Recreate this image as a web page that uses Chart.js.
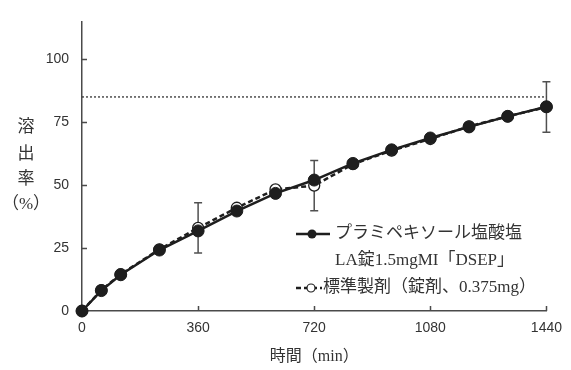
<!DOCTYPE html>
<html>
<head>
<meta charset="utf-8">
<script src="https://cdn.jsdelivr.net/npm/chart.js@4/dist/chart.umd.min.js"></script>
<style>
  html, body { margin: 0; padding: 0; background: #fff; }
  #wrap { width: 571px; height: 370px; }
</style>
</head>
<body>
<div id="wrap"><canvas id="c" width="571" height="370"></canvas></div>
<script>
// Sampling times (min) and mean dissolution (%)
const times = [0, 60, 120, 240, 360, 480, 600, 720, 840, 960, 1080, 1200, 1320, 1440];
const testProduct = [0, 8.1, 14.4, 24.2, 31.8, 39.7, 46.7, 52.0, 58.6, 64.0, 68.7, 73.1, 77.3, 81.1];
const referenceProduct = [0, 8.3, 14.6, 24.5, 33.0, 41.0, 48.3, 49.8, 58.3, 63.7, 68.3, 73.3, 77.3, 81.0];

// Acceptance ranges around the reference product
const rangeTimes = [360, 720, 1440];
const rangeLow = [23.0, 39.8, 71.0];
const rangeHigh = [43.0, 59.8, 91.0];

// Horizontal limit line
const limitTimes = [0, 1440];
const limitValues = [85, 85];

// Axis ticks and labels
const xTickValues = [0, 360, 720, 1080, 1440];
const yTickValues = [0, 25, 50, 75, 100];
const xTitle = '時間（min）';
const yTitleChars = ['溶', '出', '率', '（%）'];
const legendTest = ['プラミペキソール塩酸塩', 'LA錠1.5mgMI「DSEP」'];
const legendRef = '標準製剤（錠剤、0.375mg）';

const INK = '#1e1e1e';
const AXIS = '#4a4a4a';
const SERIF = '"Liberation Serif", "Noto Sans CJK JP", serif';
const SANS = '"Liberation Sans", Arial, sans-serif';

const toXY = (xs, ys) => xs.map((x, i) => ({ x: x, y: ys[i] }));

// Error bars behind the markers
const rangeBars = {
  id: 'rangeBars',
  beforeDatasetsDraw(chart) {
    const { ctx, scales: { x, y } } = chart;
    ctx.save();
    ctx.strokeStyle = '#505050';
    ctx.lineWidth = 1.5;
    rangeTimes.forEach((t, i) => {
      const px = x.getPixelForValue(t);
      const top = y.getPixelForValue(rangeHigh[i]);
      const bot = y.getPixelForValue(rangeLow[i]);
      ctx.beginPath();
      ctx.moveTo(px, top); ctx.lineTo(px, bot);
      ctx.moveTo(px - 4, top); ctx.lineTo(px + 4, top);
      ctx.moveTo(px - 4, bot); ctx.lineTo(px + 4, bot);
      ctx.stroke();
    });
    ctx.restore();
  }
};

// Inner tick marks, axis titles and legend
const decor = {
  id: 'decor',
  afterDraw(chart) {
    const { ctx, chartArea: a, scales: { x, y } } = chart;
    ctx.save();
    ctx.strokeStyle = AXIS;
    ctx.lineWidth = 1.5;
    ctx.beginPath();
    yTickValues.forEach(v => {
      if (v === 0) return;
      const py = Math.round(y.getPixelForValue(v)) + 0.5;
      ctx.moveTo(a.left, py); ctx.lineTo(a.left + 5, py);
    });
    xTickValues.forEach(v => {
      if (v === 0) return;
      const px = Math.round(x.getPixelForValue(v)) + 0.5;
      ctx.moveTo(px, a.bottom); ctx.lineTo(px, a.bottom - 5);
    });
    ctx.stroke();

    // Y title, stacked vertically
    ctx.fillStyle = '#333';
    ctx.textAlign = 'center';
    ctx.textBaseline = 'middle';
    const yPos = [128, 155, 180, 205];
    yTitleChars.forEach((ch, i) => {
      ctx.font = '17px ' + SERIF;
      ctx.fillText(ch, 26, yPos[i]);
    });

    // X title
    ctx.font = '16px ' + SERIF;
    ctx.fillText(xTitle, (a.left + a.right) / 2, 357);

    // Legend
    ctx.textAlign = 'left';
    ctx.font = '17px ' + SERIF;
    // test product entry
    ctx.strokeStyle = INK;
    ctx.lineWidth = 2.5;
    ctx.setLineDash([]);
    ctx.beginPath(); ctx.moveTo(296, 234); ctx.lineTo(330, 234); ctx.stroke();
    ctx.fillStyle = INK;
    ctx.beginPath(); ctx.arc(312, 234, 4.5, 0, Math.PI * 2); ctx.fill();
    ctx.fillStyle = '#333';
    ctx.fillText(legendTest[0], 335, 234);
    ctx.fillText(legendTest[1], 335, 261);
    // reference entry
    ctx.lineWidth = 2.5;
    ctx.setLineDash([5, 3]);
    ctx.beginPath(); ctx.moveTo(296, 288); ctx.lineTo(322, 288); ctx.stroke();
    ctx.setLineDash([]);
    ctx.fillStyle = '#fff';
    ctx.lineWidth = 1.2;
    ctx.beginPath(); ctx.arc(311, 288, 4, 0, Math.PI * 2); ctx.fill(); ctx.stroke();
    ctx.fillStyle = '#333';
    ctx.fillText(legendRef, 323, 288);
    ctx.restore();
  }
};

new Chart(document.getElementById('c'), {
  type: 'line',
  data: {
    datasets: [
      {
        label: legendTest.join(''),
        data: toXY(times, testProduct),
        borderColor: INK,
        borderWidth: 2.5,
        pointRadius: 6,
        pointBackgroundColor: INK,
        pointBorderColor: INK,
        pointBorderWidth: 1,
        tension: 0,
        clip: false,
        order: 0
      },
      {
        label: legendRef,
        data: toXY(times, referenceProduct),
        borderColor: INK,
        borderWidth: 2.5,
        borderDash: [5, 3],
        pointRadius: 5.5,
        pointBackgroundColor: '#fff',
        pointBorderColor: INK,
        pointBorderWidth: 1.3,
        tension: 0,
        clip: false,
        order: 1
      },
      {
        label: 'limit',
        data: toXY(limitTimes, limitValues),
        borderColor: '#333',
        borderWidth: 1.3,
        borderDash: [2, 2],
        pointRadius: 0,
        clip: false,
        order: 2
      }
    ]
  },
  options: {
    responsive: false,
    animation: false,
    events: [],
    layout: { padding: { left: 0, right: 17, top: 8, bottom: 0 } },
    plugins: { legend: { display: false }, tooltip: { enabled: false } },
    scales: {
      x: {
        type: 'linear',
        min: 0,
        max: 1440,
        afterFit(s) { s.height = 59; },
        afterBuildTicks(s) { s.ticks = xTickValues.map(v => ({ value: v })); },
        grid: { display: false, drawTicks: false },
        border: { display: true, color: AXIS, width: 1.5 },
        ticks: { color: '#333', font: { family: SANS, size: 14 }, padding: 9, maxRotation: 0, callback: v => String(v) }
      },
      y: {
        type: 'linear',
        min: 0,
        max: 115,
        afterFit(s) { s.width = 82; },
        afterBuildTicks(s) { s.ticks = yTickValues.map(v => ({ value: v })); },
        grid: { display: false, drawTicks: false },
        border: { display: true, color: AXIS, width: 1.5 },
        ticks: { color: '#333', font: { family: SANS, size: 14 }, padding: 13, callback: v => String(v) }
      }
    }
  },
  plugins: [rangeBars, decor]
});
</script>
</body>
</html>
